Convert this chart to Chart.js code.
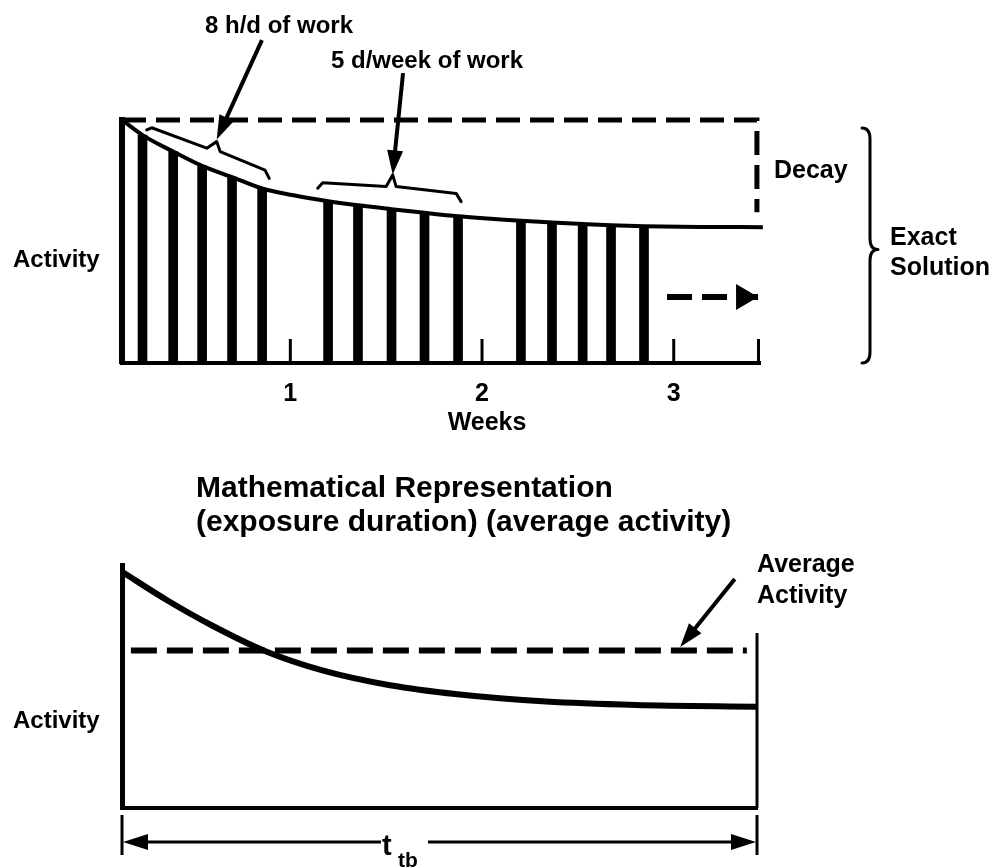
<!DOCTYPE html>
<html><head><meta charset="utf-8">
<script src="https://cdn.jsdelivr.net/npm/chart.js@4.4.1/dist/chart.umd.min.js"></script>
<style>
html,body{margin:0;padding:0;background:#fff;}
#wrap{position:relative;width:992px;height:868px;overflow:hidden;background:#fff;}
canvas{position:absolute;left:0;}
#c1{top:0;} #c2{top:450px;}
</style></head><body>
<div id="wrap"><canvas id="c1" width="992" height="450"></canvas><canvas id="c2" width="992" height="418"></canvas></div>
<script>
// ---------- data ----------
const weekTicks = [1, 2, 3];
const weekTickLabels = ['1', '2', '3'];
const curveWeeks = [0.122, 0.229, 0.389, 0.540, 0.696, 0.853, 1.010, 1.197, 1.353, 1.528, 1.700, 1.875, 2.047, 2.203, 2.365, 2.525, 2.673, 2.845, 3.135, 3.465];
const curveActivity = [100, 93.8, 87.0, 81.1, 76.5, 71.8, 69.1, 66.6, 64.9, 63.3, 61.8, 60.4, 59.4, 58.5, 57.8, 57.2, 56.7, 56.3, 56.0, 55.9];
const shiftWeeks = [0.229, 0.389, 0.540, 0.696, 0.853, 1.197, 1.353, 1.528, 1.700, 1.875, 2.203, 2.365, 2.525, 2.673, 2.845];
const shiftActivity = [93.8, 87.0, 81.1, 76.5, 71.8, 66.6, 64.9, 63.3, 61.8, 60.4, 58.5, 57.8, 57.2, 56.7, 56.3];
const noDecayWeeks = [0.122, 3.434, 3.434];
const noDecayActivity = [100, 100, 62];
const continueWeeks = [2.965, 3.44];
const continueActivity = [27.2, 27.2];
const repTime = [0, 0.071, 0.141, 0.225, 0.317, 0.422, 0.528, 0.668, 0.809, 1.0];
const repActivity = [97.2, 85.5, 75.2, 64.6, 56.5, 50.5, 46.8, 43.8, 42.4, 41.7];
const averageTime = [0.014, 0.984];
const averageActivity = [64.8, 64.8];
const endTime = [1, 1];
const endActivity = [0, 72];

// ---------- helpers ----------
const FONT = "'Liberation Sans', Arial, Helvetica, sans-serif";
Chart.defaults.font.family = FONT;
Chart.defaults.color = '#000';
const xy = (xs, ys) => xs.map((x, i) => ({x: x, y: ys[i]}));

function arrow(ctx, x1, y1, x2, y2, w, headLen, headHalf) {
  const ang = Math.atan2(y2 - y1, x2 - x1);
  const c = Math.cos(ang), s = Math.sin(ang);
  const bx = x2 - headLen * c, by = y2 - headLen * s;
  ctx.lineWidth = w;
  ctx.beginPath(); ctx.moveTo(x1, y1); ctx.lineTo(bx + c * 2, by + s * 2); ctx.stroke();
  ctx.beginPath(); ctx.moveTo(x2, y2);
  ctx.lineTo(bx + headHalf * s, by - headHalf * c);
  ctx.lineTo(bx - headHalf * s, by + headHalf * c);
  ctx.closePath(); ctx.fill();
}
function poly(ctx, pts, w) {
  ctx.lineWidth = w; ctx.lineJoin = 'round'; ctx.lineCap = 'round';
  ctx.beginPath(); ctx.moveTo(pts[0][0], pts[0][1]);
  for (let i = 1; i < pts.length; i++) ctx.lineTo(pts[i][0], pts[i][1]);
  ctx.stroke();
}

// ---------- top chart annotations ----------
const annotTop = {
  id: 'annotTop',
  afterDraw(chart) {
    const {ctx, chartArea: a, scales: {x: xs, y: ys}} = chart;
    const X = v => xs.getPixelForValue(v), Y = v => ys.getPixelForValue(v);
    const P = (w, v) => [X(w), Y(v)];
    ctx.save();
    ctx.strokeStyle = '#000'; ctx.fillStyle = '#000';
    // inner tick marks
    ctx.lineWidth = 3; ctx.lineCap = 'butt';
    [...weekTicks, xs.max].forEach(v => {
      const px = Math.min(X(v), a.right - 1.5);
      ctx.beginPath(); ctx.moveTo(px, a.bottom); ctx.lineTo(px, a.bottom - 24); ctx.stroke();
    });
    // continuation arrow head
    const e = P(continueWeeks[1], continueActivity[1]);
    ctx.beginPath(); ctx.moveTo(e[0], e[1]); ctx.lineTo(e[0] - 22, e[1] - 13); ctx.lineTo(e[0] - 22, e[1] + 13); ctx.closePath(); ctx.fill();
    // braces
    poly(ctx, [P(0.251, 95.9), P(0.277, 96.8), P(0.564, 88.4), P(0.616, 91.1), P(0.634, 87.0), P(0.868, 79.4), P(0.890, 76.0)], 3);
    poly(ctx, [P(1.143, 71.9), P(1.169, 74.2), P(1.500, 72.6), P(1.534, 77.4), P(1.552, 72.6), P(1.865, 69.8), P(1.891, 66.4)], 3);
    // pointer arrows
    ctx.lineCap = 'butt';
    let s = P(0.852, 132.9), t = P(0.616, 92.0);
    arrow(ctx, s[0], s[1], t[0], t[1], 4, 24, 8);
    s = P(1.588, 119.3); t = P(1.534, 77.6);
    arrow(ctx, s[0], s[1], t[0], t[1], 4, 24, 8);
    // Exact solution brace
    const bx = a.right + 110, bt = Y(96.7), bb = Y(0), bm = (bt + bb) / 2 + 4;
    ctx.lineWidth = 3; ctx.lineCap = 'round';
    ctx.beginPath();
    ctx.moveTo(bx - 8, bt);
    ctx.quadraticCurveTo(bx, bt, bx, bt + 11);
    ctx.lineTo(bx, bm - 11);
    ctx.quadraticCurveTo(bx, bm, bx + 8, bm);
    ctx.quadraticCurveTo(bx, bm, bx, bm + 11);
    ctx.lineTo(bx, bb - 11);
    ctx.quadraticCurveTo(bx, bb, bx - 8, bb);
    ctx.stroke();
    // texts
    ctx.textBaseline = 'alphabetic'; ctx.textAlign = 'left';
    ctx.font = 'bold 24px ' + FONT;
    ctx.fillText('8 h/d of work', 205, 33);
    ctx.fillText('5 d/week of work', 331, 68);
    ctx.fillText('Activity', 13, 267);
    ctx.font = 'bold 25px ' + FONT;
    ctx.fillText('Decay', 774, 178);
    ctx.fillText('Exact', 890, 245);
    ctx.fillText('Solution', 890, 275);
    ctx.textAlign = 'center';
    ctx.fillText('Weeks', X(2) + 5, 430);
    ctx.restore();
  }
};

new Chart(document.getElementById('c1'), {
  type: 'bar',
  data: {
    datasets: [
      {type: 'line', data: xy(curveWeeks, curveActivity), borderColor: '#000', borderWidth: 4, pointRadius: 0, cubicInterpolationMode: 'monotone', clip: false, order: 0},
      {type: 'line', data: xy(noDecayWeeks, noDecayActivity), borderColor: '#000', borderWidth: 5, borderDash: [24, 10], pointRadius: 0, tension: 0, clip: false, order: 0},
      {type: 'line', data: xy(continueWeeks, continueActivity), borderColor: '#000', borderWidth: 6, borderDash: [25, 10], pointRadius: 0, tension: 0, clip: false, order: 0},
      {type: 'bar', data: xy(shiftWeeks, shiftActivity), backgroundColor: '#000', borderWidth: 0, barThickness: 9, order: 1}
    ]
  },
  options: {
    responsive: false, animation: false, events: [],
    layout: {padding: {left: 122, right: 232, top: 120, bottom: 0}},
    plugins: {legend: {display: false}, tooltip: {enabled: false}, title: {display: false}},
    scales: {
      x: {
        type: 'linear', min: 0.122, max: 3.45, offset: false,
        grid: {display: false, drawTicks: false},
        border: {display: true, width: 4, color: '#000'},
        ticks: {font: {size: 25, weight: 'bold'}, color: '#000', padding: 16, maxRotation: 0, autoSkip: false,
          callback: (v) => { const i = weekTicks.indexOf(v); return i >= 0 ? weekTickLabels[i] : ''; }},
        afterBuildTicks: (s) => { s.ticks = weekTicks.map(v => ({value: v})); },
        afterFit: (s) => { s.height = 87; }
      },
      y: {
        min: 0, max: 100,
        grid: {display: false, drawTicks: false},
        ticks: {display: false},
        border: {display: true, width: 6, color: '#000'},
        afterFit: (s) => { s.width = 0; }
      }
    }
  },
  plugins: [annotTop]
});

// ---------- bottom chart annotations ----------
const annotBottom = {
  id: 'annotBottom',
  afterDraw(chart) {
    const {ctx, chartArea: a, scales: {x: xs, y: ys}} = chart;
    const X = v => xs.getPixelForValue(v), Y = v => ys.getPixelForValue(v);
    ctx.save();
    ctx.strokeStyle = '#000'; ctx.fillStyle = '#000';
    ctx.textBaseline = 'alphabetic'; ctx.textAlign = 'left';
    ctx.font = 'bold 30px ' + FONT;
    ctx.fillText('Mathematical Representation', 196, 47);
    ctx.fillText('(exposure duration) (average activity)', 196, 81);
    ctx.font = 'bold 24px ' + FONT;
    ctx.fillText('Activity', 13, 278);
    ctx.font = 'bold 25px ' + FONT;
    ctx.fillText('Average', 757, 122);
    ctx.fillText('Activity', 757, 153);
    // average activity pointer
    ctx.lineCap = 'butt';
    arrow(ctx, X(0.965), Y(94.2), X(0.879), Y(66.3), 4, 24, 8);
    // t_tb span
    const yb = a.bottom + 34, x0 = X(0), x1 = X(1);
    ctx.lineWidth = 3;
    ctx.beginPath(); ctx.moveTo(x0, a.bottom + 7); ctx.lineTo(x0, a.bottom + 47); ctx.stroke();
    ctx.beginPath(); ctx.moveTo(x1, a.bottom + 7); ctx.lineTo(x1, a.bottom + 47); ctx.stroke();
    arrow(ctx, 381, yb, x0 + 1, yb, 3, 25, 8);
    arrow(ctx, 428, yb, x1 - 1, yb, 3, 25, 8);
    ctx.font = 'bold 29px ' + FONT;
    ctx.fillText('t', 382, a.bottom + 47);
    ctx.font = 'bold 21px ' + FONT;
    ctx.fillText('tb', 398, a.bottom + 59);
    ctx.restore();
  }
};

new Chart(document.getElementById('c2'), {
  type: 'line',
  data: {
    datasets: [
      {data: xy(repTime, repActivity), borderColor: '#000', borderWidth: 6, pointRadius: 0, cubicInterpolationMode: 'monotone', clip: false},
      {data: xy(averageTime, averageActivity), borderColor: '#000', borderWidth: 6, borderDash: [26, 10], pointRadius: 0, tension: 0, clip: false},
      {data: xy(endTime, endActivity), borderColor: '#000', borderWidth: 3, pointRadius: 0, tension: 0, clip: false}
    ]
  },
  options: {
    responsive: false, animation: false, events: [],
    layout: {padding: {left: 122, right: 235, top: 115, bottom: 0}},
    plugins: {legend: {display: false}, tooltip: {enabled: false}, title: {display: false}},
    scales: {
      x: {
        type: 'linear', min: 0, max: 1,
        grid: {display: false, drawTicks: false},
        ticks: {display: false},
        border: {display: true, width: 4, color: '#000'},
        afterFit: (s) => { s.height = 60; }
      },
      y: {
        min: 0, max: 100,
        grid: {display: false, drawTicks: false},
        ticks: {display: false},
        border: {display: true, width: 5, color: '#000'},
        afterFit: (s) => { s.width = 0; }
      }
    }
  },
  plugins: [annotBottom]
});
</script>
</body></html>
